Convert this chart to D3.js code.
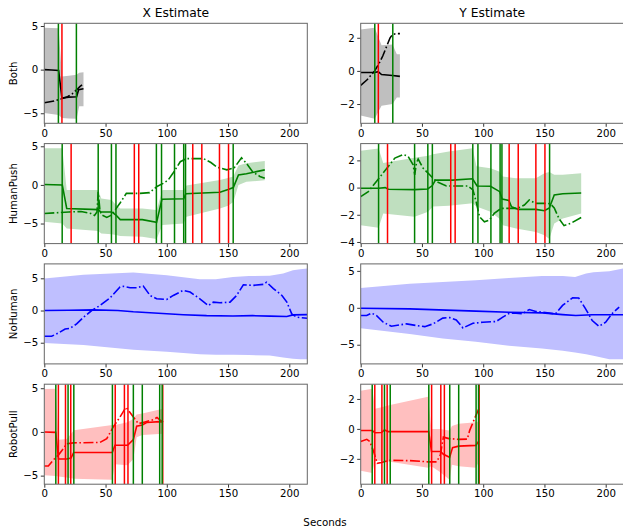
<!DOCTYPE html>
<html><head><meta charset="utf-8">
<script src="https://cdn.jsdelivr.net/npm/d3@7"></script>
<style>body{margin:0;background:#fff}</style>
</head><body><svg id="c" width="623" height="529"></svg>
<script>
// ---------------- DATA ----------------
const categories = ["Both", "HumanPush", "NoHuman", "RobotPull"];
const columnTitles = ["X Estimate", "Y Estimate"];
const xLabel = "Seconds";
const xTicks = [0, 50, 100, 150, 200];
const xMax = 214.7;

// yTicks per panel (row-major: X, Y)
const yTicksBothX = [-5, 0, 5], yTicksBothY = [-2, 0, 2];
const yTicksHpX = [-5, 0, 5], yTicksHpY = [-4, -2, 0, 2];
const yTicksNhX = [-5, 0, 5], yTicksNhY = [-5, 0, 5];
const yTicksRpX = [-5, 0, 5], yTicksRpY = [-2, 0, 2];

// Both
const bothGreen = [11.5, 26.2];
const bothRed = [14.4];
const bothXEst = [[0,0],[6,-0.05],[11.7,-0.1],[14.4,-3.25],[20,-3.15],[26.4,-3.1],[28,-2.3],[32,-2.2]];
const bothXTruth = [[0,-3.8],[8,-3.6],[14,-3.35],[19,-3.1],[23,-2.75],[26.5,-2.3],[29,-1.95],[30.8,-1.75]];
const bothXBand = [[0,-4.97,4.79],[11.7,-5.2,4.75],[14.4,-5.55,-0.8],[20,-5.6,-0.7],[26.4,-5.63,-0.6],[28.5,-4.2,-0.35],[32,-4.2,-0.3]];
const bothYEst = [[0,-0.1],[11.4,-0.1],[14.3,-0.05],[17,-0.22],[26,-0.28],[32,-0.33]];
const bothYTruth = [[0,-0.88],[5,-0.55],[11.4,0.0],[15,0.45],[18,0.9],[21,1.45],[24,2.0],[26,2.2],[29,2.25],[32,2.25]];
const bothYBand = [[0,-2.7,2.5],[11.4,-2.89,2.6],[17,-2.1,1.55],[26,-2.0,1.6],[29.5,-1.6,1.0],[32,-1.6,1.0]];

// HumanPush
const hpGreen = [14.6, 44, 54.8, 58.5, 91.5, 95.7, 106.3, 113.8, 115.3, 154.2];
const hpRed = [21.9, 73.5, 77.1, 121.2, 128.6, 143, 150.4];
const hpXEst = [[0,0.05],[14.7,0],[18.3,-3.05],[44,-3.2],[46,-3.5],[55,-3.5],[58.5,-3.9],[62,-4.5],[80,-4.5],[91.7,-4.85],[96,-1.85],[113.8,-1.8],[115.5,-1.15],[143.4,-0.95],[150,-0.6],[154.3,-0.35],[158.5,1.3],[165,1.45],[180,1.95]];
const hpXTruth = [[0,-3.7],[10,-3.6],[20,-3.5],[30,-3.45],[38,-3.7],[41,-3.95],[43,-3.5],[44,-0.9],[45.5,-3.4],[47,-3.9],[51,-4.2],[55,-3.9],[58,-3.2],[62,-2.3],[67,-1.1],[78,-1.1],[86,-1.0],[89,-0.6],[92,-0.2],[97,0.2],[101,0.6],[105,1.5],[111,3.0],[116,3.4],[130,3.4],[136,2.9],[141,2.3],[149,1.95],[155,2.2],[161,3.5],[165,2.8],[170,1.7],[176,1.1],[180,0.85]];
const hpXBand = [[0,-4.78,4.76],[14.7,-5.0,4.76],[18.3,-5.65,-0.65],[44,-5.96,-0.65],[46.5,-6.3,-1.75],[55,-6.4,-1.96],[58.5,-6.5,-2.6],[62,-6.6,-3.04],[80,-6.7,-3.04],[91.7,-7.01,-3.26],[96.4,-5.2,-0.65],[113.8,-5.0,-0.65],[116,-4.13,-0.09],[143.4,-3.04,0.65],[150,-2.7,0.9],[154.3,-2.2,1.1],[158.5,0.0,2.5],[165,0.4,2.8],[180,0.6,3.1]];
const hpYEst = [[0,-0.05],[14.6,-0.05],[20,0.0],[22.5,-0.12],[44,-0.15],[54.7,-0.1],[58.5,0.15],[61,0.55],[75,0.55],[91.3,0.65],[95,0.12],[106,0.1],[113.5,-0.3],[115.5,-0.85],[121,-0.95],[123,-1.4],[128.5,-1.6],[143,-1.6],[150,-1.7],[154,-1.5],[158,-0.55],[165,-0.45],[180,-0.4]];
const hpYTruth = [[0,-0.67],[6.2,-0.3],[14.3,0.62],[22.5,1.55],[27.9,2.17],[34.7,2.42],[38.7,2.3],[42.8,1.68],[44.1,0.94],[45.5,1.8],[46.9,2.1],[50.9,1.43],[56.3,0.94],[61.8,0.44],[70,0.12],[87.5,0.12],[91.6,-0.17],[94.3,-1.04],[97,-2.15],[101,-2.52],[105,-2.4],[109,-1.9],[114.6,-1.53],[128,-1.53],[133.6,-1.28],[137.6,-0.91],[142.7,-1.16],[152,-1.16],[155,-1.2],[158,-1.5],[162,-2.3],[166,-2.8],[172,-2.6],[180,-2.2]];
const hpYBand = [[0,-2.77,2.7],[14.6,-2.96,2.88],[18.4,-1.9,1.8],[44,-2.15,2.2],[55,-1.78,2.35],[59,-1.4,2.45],[72,-1.33,2.65],[91.3,-1.16,2.9],[94.5,-1.4,1.56],[106,-1.78,1.43],[113,-2.27,1.19],[116,-2.77,0.81],[126.8,-3.0,0.69],[143,-3.26,0.69],[150,-3.5,1.06],[154,-3.785,1.14],[158,-2.64,0.94],[165,-2.27,0.94],[180,-1.9,1.06]];

// NoHuman
const nhGreen = [];
const nhRed = [];
const nhXEst = [[0,0],[20,0.05],[40,0.1],[60,0],[72.7,-0.2],[100,-0.5],[113.5,-0.65],[132.5,-0.8],[154,-0.85],[170,-0.8],[184,-0.87],[198,-0.92],[203,-0.68],[214.7,-0.63]];
const nhXTruth = [[0,-4.0],[6,-4.0],[11.4,-3.5],[17,-2.86],[21,-2.76],[26.4,-2.08],[32,-1.04],[38.7,0],[45.5,0.78],[53.6,1.93],[61.8,3.65],[64.5,3.75],[70,3.54],[75.4,3.54],[80.8,3.8],[86.3,2.34],[91.7,1.82],[100,1.72],[105.3,2.34],[113.5,3.13],[119,2.86],[127,1.82],[133.9,0.78],[138,1.3],[143.4,1.2],[151.6,1.3],[157,2.34],[162.5,4.0],[170.6,3.9],[178.8,4.06],[181.5,4.4],[187,3.4],[194,2.34],[198,1.3],[202,-0.52],[206,-1.04],[214.7,-1.2]];
const nhXBand = [[0,-5.05,4.95],[32,-5.36,5.57],[72.7,-6.1,5.89],[100,-6.4,5.47],[127,-6.77,4.84],[140,-6.85,4.84],[154,-6.88,5.2],[167,-6.9,5.36],[184,-7.0,5.4],[195,-7.3,5.73],[203,-7.5,6.25],[209,-7.58,6.4],[214.7,-7.55,6.53]];
const nhYEst = [[0,-0.05],[40,-0.14],[94,-0.45],[121,-0.6],[148.5,-0.68],[164.8,-0.92],[175.6,-1.05],[189,-0.95],[214.7,-0.95]];
const nhYTruth = [[0,-1.05],[4.9,-1.05],[8.9,-0.73],[13,-1.05],[18.4,-1.95],[25,-2.5],[32,-2.3],[37.4,-2.18],[45.5,-2.4],[52.3,-2.55],[59,-2.18],[67,-1.4],[72.6,-1.32],[78,-1.64],[83.5,-2.73],[91.6,-2.1],[99.7,-1.95],[110.5,-1.86],[116,-1.27],[121.4,-0.73],[126.8,-0.73],[132,-0.82],[137.6,-0.23],[143,-0.5],[159,-0.82],[164.8,0.32],[173,1.36],[178,1.32],[183.6,-0.14],[189,-1.73],[194.5,-2.5],[200,-1.95],[205,-0.82],[211,0.09]];
const nhYBand = [[0,-2.77,2.68],[40,-3.55,3.27],[67,-4.14,3.5],[94,-4.6,3.73],[121,-5.14,4.05],[148,-5.5,4.32],[165,-5.8,4.32],[175,-6.05,4.18],[184,-6.3,4.64],[190,-6.5,4.8],[203,-6.95,4.95],[214.7,-6.98,5.33]];

// RobotPull
const rpGreen = [9.4, 19.4, 24.1, 55.6, 72.7, 80, 94.2, 96.2];
const rpRed = [11.5, 17.3, 21.6, 57.9, 65.4, 68.3, 96.7];
const rpXEst = [[0,0],[9.3,-0.05],[11.6,-3.1],[18.3,-3.1],[21.8,-3.0],[24,-2.35],[55.5,-2.35],[57.7,-1.52],[68,-1.52],[72.7,-0.88],[75.4,0.65],[80,0.8],[83.5,1.08],[94.4,1.18],[97,1.15]];
const rpXTruth = [[0,-3.9],[3.3,-3.9],[7.4,-3.2],[11.5,-2.65],[15,-2.0],[18.3,-1.35],[23.7,-1.25],[45.5,-1.2],[51,-0.76],[56.3,0.57],[61.8,1.7],[66.7,2.84],[72.7,1.7],[76.8,0.95],[82.2,1.14],[89,1.4],[92,1.65],[94,1.4],[97,1.15]];
const rpXBand = [[0,-4.95,4.9],[9.3,-5.05,4.94],[11.7,-5.1,-0.9],[18.3,-5.2,-0.8],[24.2,-5.35,0.2],[55.5,-5.46,0.8],[57.7,-3.7,0.8],[68,-3.8,1.1],[72.7,-3.1,1.5],[75.4,-0.6,2.0],[80,-0.35,2.1],[97,-0.2,2.65]];
const rpYEst = [[0,-0.11],[9.5,-0.11],[11.6,-0.26],[17,-0.24],[19.3,-0.07],[22.5,-0.18],[55.5,-0.18],[57.8,-1.51],[65.3,-1.51],[67.5,-1.7],[72.6,-1.9],[75,-1.25],[79.9,-1.15],[94,-1.1],[96.5,-0.8]];
const rpYTruth = [[0,-0.85],[5,-0.7],[7.5,-0.85],[10.5,-1.5],[13.5,-2.3],[17,-2.25],[23,-2.1],[40,-2.12],[55,-2.2],[62,-2.2],[65,-1.75],[67.5,-0.55],[72,-0.65],[80,-0.7],[87,-0.68],[89,-0.1],[93,0.7],[96.5,1.35]];
const rpYBand = [[0,-2.8,2.55],[9.5,-2.95,2.68],[11.7,-2.1,1.35],[17,-2.15,1.45],[24,-2.2,1.6],[55,-2.6,2.15],[57.7,-2.5,0.0],[65,-2.9,0.0],[68,-3.1,-0.05],[72.6,-3.39,-0.1],[74.5,-2.4,0.2],[80,-2.5,0.35],[94,-2.6,0.45],[96.5,-2.2,0.5]];

// ---------------- STYLE / LAYOUT ----------------
const lineColors = ["#000000", "#008000", "#0000ff", "#ff0000"];
const bandColors = ["#bfbfbf", "#bfdfbf", "#bfbfff", "#ffbfbf"];
const panels = [
  {est: bothXEst, truth: bothXTruth, band: bothXBand, green: bothGreen, red: bothRed, ticks: yTicksBothX},
  {est: bothYEst, truth: bothYTruth, band: bothYBand, green: bothGreen, red: bothRed, ticks: yTicksBothY},
  {est: hpXEst, truth: hpXTruth, band: hpXBand, green: hpGreen, red: hpRed, ticks: yTicksHpX},
  {est: hpYEst, truth: hpYTruth, band: hpYBand, green: hpGreen, red: hpRed, ticks: yTicksHpY},
  {est: nhXEst, truth: nhXTruth, band: nhXBand, green: nhGreen, red: nhRed, ticks: yTicksNhX},
  {est: nhYEst, truth: nhYTruth, band: nhYBand, green: nhGreen, red: nhRed, ticks: yTicksNhY},
  {est: rpXEst, truth: rpXTruth, band: rpXBand, green: rpGreen, red: rpRed, ticks: yTicksRpX},
  {est: rpYEst, truth: rpYTruth, band: rpYBand, green: rpGreen, red: rpRed, ticks: yTicksRpY}
];

const FONT = "DejaVu Sans, sans-serif";
const colX = [44.3, 360.7], axW = 263, axH = 100;
const rowTop = [23.3, 143.6, 263.9, 384.2];
const LW = 1.6;
const svg = d3.select("#c");
const fmt = d => String(d).replace("-", "\u2212");

panels.forEach((p, i) => {
  const row = Math.floor(i / 2), col = i % 2;
  const g = svg.append("g").attr("transform", `translate(${colX[col]},${rowTop[row]})`);
  const x = d3.scaleLinear().domain([0, xMax]).range([0, axW]);
  const lo = d3.min(p.band, d => d[1]), hi = d3.max(p.band, d => d[2]);
  const ymin = Math.min(lo, d3.min(p.est, d => d[1]), d3.min(p.truth, d => d[1]));
  const ymax = Math.max(hi, d3.max(p.est, d => d[1]), d3.max(p.truth, d => d[1]));
  const pad = (ymax - ymin) * 0.05;
  const y = d3.scaleLinear().domain([ymin - pad, ymax + pad]).range([axH, 0]);

  const cid = "clip" + i;
  g.append("clipPath").attr("id", cid).append("rect").attr("width", axW).attr("height", axH);
  const plot = g.append("g").attr("clip-path", `url(#${cid})`);

  plot.append("path").datum(p.band)
    .attr("d", d3.area().x(d => x(d[0])).y0(d => y(d[1])).y1(d => y(d[2])))
    .attr("fill", bandColors[row]).attr("stroke", "none");
  plot.append("path").datum(p.est)
    .attr("d", d3.line().x(d => x(d[0])).y(d => y(d[1])))
    .attr("fill", "none").attr("stroke", lineColors[row]).attr("stroke-width", LW);
  plot.append("path").datum(p.truth)
    .attr("d", d3.line().x(d => x(d[0])).y(d => y(d[1])))
    .attr("fill", "none").attr("stroke", lineColors[row]).attr("stroke-width", LW)
    .attr("stroke-dasharray", "10,2.5,1.6,2.5");
  const ev = p.red.map(t => ({t, c: "#ff0000"})).concat(p.green.map(t => ({t, c: "#008000"})));
  plot.selectAll("line.ev").data(ev).enter().append("line")
    .attr("x1", d => x(d.t)).attr("x2", d => x(d.t)).attr("y1", 0).attr("y2", axH)
    .attr("stroke", d => d.c).attr("stroke-width", 1.5);

  // axes
  const ax = g.append("g").attr("transform", `translate(0,${axH})`)
    .call(d3.axisBottom(x).tickValues(xTicks).tickSize(3.5).tickPadding(2.5).tickFormat(fmt));
  const ay = g.append("g")
    .call(d3.axisLeft(y).tickValues(p.ticks).tickSize(3.5).tickPadding(2.5).tickFormat(fmt));
  [ax, ay].forEach(a => {
    a.select(".domain").remove();
    a.selectAll("text").attr("font-family", FONT).attr("font-size", 10.2).attr("fill", "#000");
    a.selectAll("line").attr("stroke", "#000").attr("stroke-width", 0.8);
  });
  g.append("rect").attr("width", axW).attr("height", axH)
    .attr("fill", "none").attr("stroke", "#666").attr("stroke-width", 1);

  if (row === 0) {
    g.append("text").attr("x", axW / 2).attr("y", -6).attr("text-anchor", "middle")
      .attr("font-family", FONT).attr("font-size", 12.3).text(columnTitles[col]);
  }
  if (col === 0) {
    g.append("text").attr("transform", `translate(${-27},${axH / 2}) rotate(-90)`)
      .attr("text-anchor", "middle").attr("font-family", FONT).attr("font-size", 10.2)
      .text(categories[row]);
  }
});

svg.append("text").attr("x", 325).attr("y", 526).attr("text-anchor", "middle")
  .attr("font-family", FONT).attr("font-size", 10.3).text(xLabel);
</script></body></html>
